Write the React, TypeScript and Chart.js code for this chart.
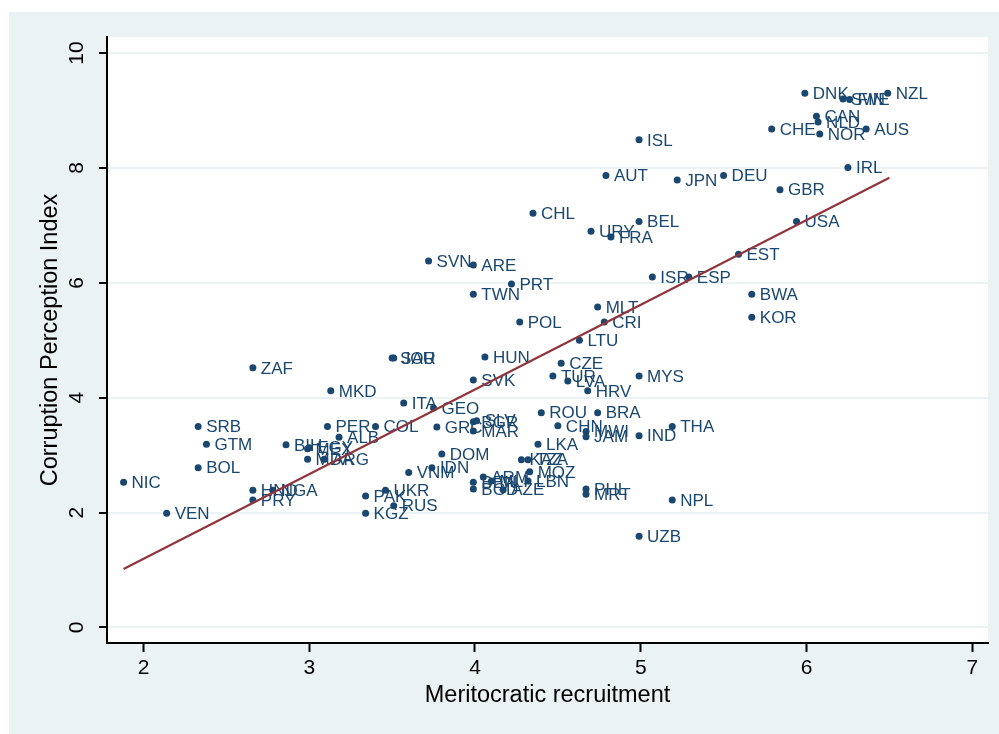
import { useEffect, useRef } from "react";
import { Chart, registerables } from "chart.js";

Chart.register(...registerables);

const countries = [
  "NZL", "DNK", "SWE", "FIN", "CAN", "NLD", "CHE", "NOR", "AUS", "ISL",
  "IRL", "DEU", "JPN", "AUT", "GBR", "CHL", "BEL", "USA", "URY", "FRA",
  "EST", "SVN", "ARE", "ISR", "ESP", "PRT", "TWN", "BWA", "MLT", "KOR",
  "POL", "CRI", "LTU", "SAU", "JOR", "HUN", "CZE", "ZAF", "TUR", "MYS",
  "SVK", "LVA", "MKD", "HRV", "ITA", "GEO", "ROU", "BRA", "SRB", "PER",
  "COL", "GRC", "BGR", "SLV", "CHN", "THA", "MWI", "MAR", "JAM", "IND",
  "ALB", "GTM", "BIH", "LKA", "MEX", "EGY", "DOM", "MDA", "ARG", "KAZ",
  "TZA", "BOL", "IDN", "MOZ", "VNM", "ARM", "NIC", "BEN", "MLI", "LBN",
  "PHL", "HND", "NGA", "UKR", "BGD", "AZE", "MRT", "PAK", "PRY", "NPL",
  "RUS", "KGZ", "VEN", "UZB",
];

const recruitment = [
  6.49, 5.99, 6.22, 6.26, 6.06, 6.07, 5.79, 6.08, 6.36, 4.99,
  6.25, 5.50, 5.22, 4.79, 5.84, 4.35, 4.99, 5.94, 4.70, 4.82,
  5.59, 3.72, 3.99, 5.07, 5.29, 4.22, 3.99, 5.67, 4.74, 5.67,
  4.27, 4.78, 4.63, 3.50, 3.51, 4.06, 4.52, 2.66, 4.47, 4.99,
  3.99, 4.56, 3.13, 4.68, 3.57, 3.75, 4.40, 4.74, 2.33, 3.11,
  3.40, 3.77, 3.99, 4.01, 4.50, 5.19, 4.67, 3.99, 4.67, 4.99,
  3.18, 2.38, 2.86, 4.38, 2.99, 3.00, 3.80, 2.99, 3.09, 4.28,
  4.32, 2.33, 3.74, 4.33, 3.60, 4.05, 1.88, 3.99, 4.10, 4.32,
  4.67, 2.66, 2.78, 3.46, 3.99, 4.17, 4.67, 3.34, 2.66, 5.19,
  3.51, 3.34, 2.14, 4.99,
];

const cpi = [
  9.30, 9.30, 9.20, 9.19, 8.90, 8.80, 8.68, 8.59, 8.68, 8.49,
  8.01, 7.87, 7.79, 7.87, 7.62, 7.21, 7.07, 7.07, 6.90, 6.80,
  6.50, 6.38, 6.31, 6.10, 6.10, 5.98, 5.80, 5.80, 5.58, 5.40,
  5.32, 5.32, 5.00, 4.69, 4.69, 4.71, 4.60, 4.52, 4.38, 4.38,
  4.31, 4.29, 4.12, 4.12, 3.91, 3.82, 3.74, 3.74, 3.50, 3.50,
  3.50, 3.49, 3.58, 3.60, 3.51, 3.50, 3.41, 3.42, 3.32, 3.34,
  3.31, 3.19, 3.18, 3.19, 3.11, 3.13, 3.02, 2.93, 2.93, 2.92,
  2.92, 2.78, 2.78, 2.71, 2.70, 2.62, 2.53, 2.53, 2.55, 2.55,
  2.41, 2.39, 2.39, 2.39, 2.41, 2.40, 2.32, 2.29, 2.22, 2.22,
  2.12, 1.99, 1.99, 1.59,
];

const fitX = [1.88, 6.5];
const fitY = [1.02, 7.83];

const xTicks = [2, 3, 4, 5, 6, 7];
const yTicks = [0, 2, 4, 6, 8, 10];

const NAVY = "#1a476f";
const MAROON = "#90353b";
const BG = "#eaf2f3";
const FONT = "'Liberation Sans', Arial, Helvetica, sans-serif";

export default function App() {
  const ref = useRef<HTMLCanvasElement | null>(null);

  useEffect(() => {
    document.body.style.margin = "0";
    const canvas = ref.current;
    if (!canvas) return;

    const plotBg = {
      id: "plotBg",
      beforeDraw(chart: any) {
        const { ctx, chartArea } = chart;
        ctx.save();
        ctx.fillStyle = "#ffffff";
        ctx.fillRect(
          chartArea.left,
          chartArea.top,
          chartArea.right - chartArea.left,
          chartArea.bottom - chartArea.top
        );
        ctx.restore();
      },
    };

    const pointLabels = {
      id: "pointLabels",
      afterDatasetDraw(chart: any, args: any) {
        if (args.index !== 0) return;
        const { ctx } = chart;
        const meta = chart.getDatasetMeta(0);
        ctx.save();
        ctx.font = `17px ${FONT}`;
        ctx.fillStyle = NAVY;
        ctx.textAlign = "left";
        ctx.textBaseline = "middle";
        meta.data.forEach((pt: any, i: number) => {
          ctx.fillText(countries[i], pt.x + 8, pt.y + 1);
        });
        ctx.restore();
      },
    };

    const yTickLabels = {
      id: "yTickLabels",
      afterDraw(chart: any) {
        const { ctx } = chart;
        const scale = chart.scales.y;
        ctx.save();
        ctx.font = `21px ${FONT}`;
        ctx.fillStyle = "#000";
        ctx.textAlign = "center";
        ctx.textBaseline = "middle";
        yTicks.forEach((v) => {
          const py = scale.getPixelForValue(v);
          ctx.save();
          ctx.translate(68, py);
          ctx.rotate(-Math.PI / 2);
          ctx.fillText(String(v), 0, 0);
          ctx.restore();
        });
        ctx.restore();
      },
    };

    const chart = new Chart(canvas, {
      type: "scatter",
      data: {
        datasets: [
          {
            label: "CPI",
            data: recruitment.map((x, i) => ({ x, y: cpi[i] })),
            backgroundColor: NAVY,
            borderColor: NAVY,
            pointRadius: 3.5,
            pointBorderWidth: 0,
            order: 2,
          },
          {
            type: "line",
            label: "Fitted values",
            data: fitX.map((x, i) => ({ x, y: fitY[i] })),
            borderColor: MAROON,
            borderWidth: 2.2,
            pointRadius: 0,
            fill: false,
            order: 1,
          } as any,
        ],
      },
      options: {
        responsive: false,
        animation: false,
        events: [],
        layout: { padding: { top: 25, right: 11, left: 0, bottom: 0 } },
        plugins: {
          legend: { display: false },
          tooltip: { enabled: false },
        },
        scales: {
          x: {
            type: "linear",
            position: "bottom",
            min: 1.78,
            max: 7.095,
            afterBuildTicks: (scale: any) => {
              scale.ticks = xTicks.map((v) => ({ value: v }));
            },
            afterFit: (scale: any) => {
              scale.height = 91;
            },
            ticks: {
              font: { family: FONT, size: 21 },
              color: "#000",
              padding: 4,
              maxRotation: 0,
              minRotation: 0,
            },
            grid: {
              drawOnChartArea: false,
              drawTicks: true,
              tickLength: 9,
              tickColor: "#000",
              tickWidth: 2,
            },
            border: { color: "#000", width: 2 },
            title: {
              display: true,
              text: "Meritocratic recruitment",
              font: { family: FONT, size: 23.5 },
              color: "#000",
              padding: { top: 0, bottom: 24 },
            },
          },
          y: {
            type: "linear",
            position: "left",
            min: -0.27,
            max: 10.28,
            afterBuildTicks: (scale: any) => {
              scale.ticks = yTicks.map((v) => ({ value: v }));
            },
            afterFit: (scale: any) => {
              scale.width = 98;
            },
            ticks: { display: false },
            grid: {
              color: BG,
              lineWidth: 2,
              drawTicks: true,
              tickLength: 8,
              tickColor: "#000",
              tickWidth: 2,
            },
            border: { color: "#000", width: 2 },
            title: {
              display: true,
              text: "Corruption Perception Index",
              font: { family: FONT, size: 23.5 },
              color: "#000",
              padding: { top: 27, bottom: 0 },
            },
          },
        },
      },
      plugins: [plotBg, pointLabels, yTickLabels],
    });

    return () => chart.destroy();
  }, []);

  return (
    <div
      style={{
        position: "absolute",
        left: 9,
        top: 12,
        width: 990,
        height: 722,
        background: BG,
      }}
    >
      <canvas ref={ref} width={990} height={722} style={{ display: "block" }} />
    </div>
  );
}
